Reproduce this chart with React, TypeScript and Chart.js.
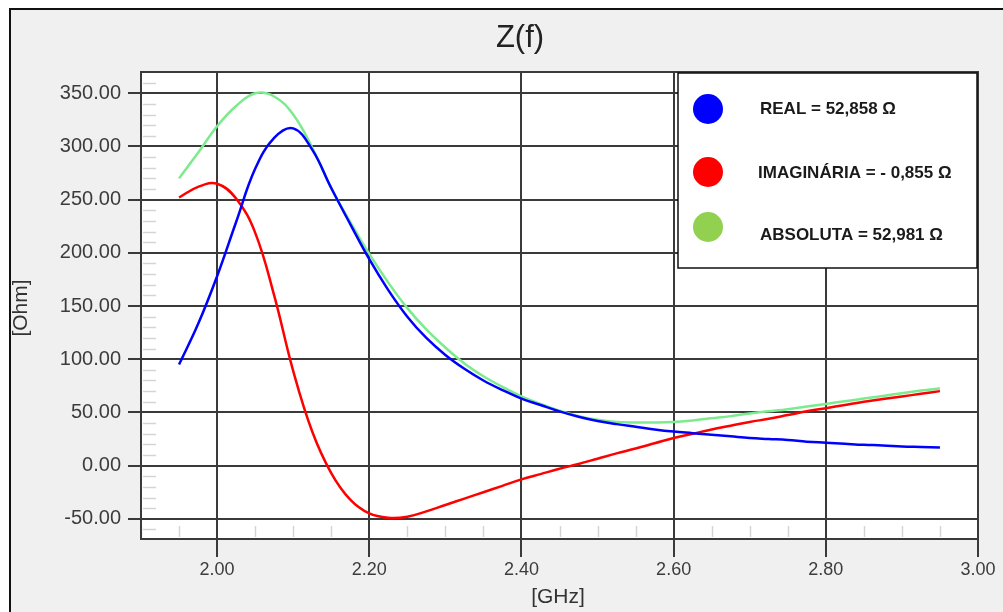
import React, { useEffect, useRef } from 'react';
import { Chart, registerables } from 'chart.js';

Chart.register(...registerables);

const freqs = [
  1.95, 1.975, 2.0, 2.025, 2.05, 2.075, 2.1, 2.125, 2.15, 2.175, 2.2, 2.225, 2.25, 2.275,
  2.3, 2.325, 2.35, 2.375, 2.4, 2.425, 2.45, 2.475, 2.5, 2.525, 2.55, 2.575, 2.6, 2.625,
  2.65, 2.675, 2.7, 2.725, 2.75, 2.775, 2.8, 2.825, 2.85, 2.875, 2.9, 2.925, 2.95,
];
const realOhm = [
  95, 133, 178, 229, 279, 308, 317, 297, 261, 227, 194, 165, 140, 120,
  104, 91, 80, 71, 63, 57, 51, 46, 42, 39, 36.5, 34, 32, 30.5,
  29, 27.5, 26, 25, 24, 22.5, 21.5, 20.5, 19.5, 19, 18, 17.5, 17,
];
const imagOhm = [
  252, 262, 265, 251, 219, 160, 89, 32, -7, -32, -45, -49, -48, -43,
  -37, -31, -25, -19, -13, -8, -3, 1.5, 6.5, 11.5, 16, 21, 26, 30,
  34, 37.5, 41, 44, 47.5, 51, 54, 57, 60, 62.5, 65, 67.5, 70,
];
const absOhm = [
  270, 294, 319, 338, 350, 347, 330, 299, 261, 229, 199, 172, 148, 128,
  111, 96, 84, 74, 65, 58, 51.5, 46.5, 43, 41, 40.5, 40.5, 41, 42.5,
  44.5, 46.5, 49, 51, 53, 55.5, 58, 60.5, 63, 65.5, 68, 70.5, 72.5,
];
const xTicks = [2.0, 2.2, 2.4, 2.6, 2.8, 3.0];
const yTicks = [-50, 0, 50, 100, 150, 200, 250, 300, 350];
const xMinorStep = 0.05;
const yMinorStep = 10;
const seriesColors = ['#0000ff', '#ff0000', '#7beb8e'];
const legendLabels = ['REAL = 52,858 Ω', 'IMAGINÁRIA = - 0,855 Ω', 'ABSOLUTA = 52,981 Ω'];
const legendDotColors = ['#0000ff', '#ff0000', '#92d050'];
const chartTitle = 'Z(f)';
const xTitle = '[GHz]';
const yTitle = '[Ohm]';

const FONT = "'Liberation Sans', Arial, sans-serif";

const decorPlugin = {
  id: 'decor',
  beforeDraw(chart: any) {
    const { ctx, chartArea: a, width, height } = chart;
    ctx.save();
    ctx.fillStyle = '#ffffff';
    ctx.fillRect(0, 0, width, height);
    ctx.fillStyle = '#f0f0f0';
    ctx.fillRect(10, 9, width - 10, height - 9);
    ctx.fillStyle = '#111111';
    ctx.fillRect(9, 8, width - 9, 2);
    ctx.fillRect(9, 8, 2, height - 8);
    ctx.fillStyle = '#ffffff';
    ctx.fillRect(a.left, a.top, a.right - a.left, a.bottom - a.top);
    ctx.restore();
  },
  beforeDatasetsDraw(chart: any) {
    const { ctx, chartArea: a, scales } = chart;
    const xs = scales.x;
    const ys = scales.y;
    ctx.save();
    ctx.strokeStyle = '#d4d4d4';
    ctx.lineWidth = 1.5;
    for (let k = Math.ceil(xs.min / xMinorStep); k * xMinorStep < xs.max - 1e-9; k++) {
      const v = k * xMinorStep;
      if (Math.abs(v / 0.2 - Math.round(v / 0.2)) < 1e-6) continue;
      const px = Math.round(xs.getPixelForValue(v)) + 0.5;
      ctx.beginPath();
      ctx.moveTo(px, a.bottom - 2);
      ctx.lineTo(px, a.bottom - 13);
      ctx.stroke();
    }
    for (let k = Math.ceil(ys.min / yMinorStep); k * yMinorStep < ys.max; k++) {
      const v = k * yMinorStep;
      if (v % 50 === 0) continue;
      const py = Math.round(ys.getPixelForValue(v)) + 0.5;
      ctx.beginPath();
      ctx.moveTo(a.left + 2, py);
      ctx.lineTo(a.left + 15, py);
      ctx.stroke();
    }
    ctx.strokeStyle = '#3a3a3a';
    ctx.lineWidth = 2;
    ctx.strokeRect(a.left, a.top, a.right - a.left, a.bottom - a.top);
    ctx.restore();
  },
  afterDraw(chart: any) {
    const { ctx } = chart;
    ctx.save();
    ctx.fillStyle = '#222222';
    ctx.font = `31px ${FONT}`;
    ctx.textAlign = 'center';
    ctx.textBaseline = 'middle';
    ctx.fillText(chartTitle, 520, 38);
    ctx.fillStyle = '#333333';
    ctx.font = `21px ${FONT}`;
    ctx.fillText(xTitle, 558, 597);
    ctx.save();
    ctx.translate(21, 308);
    ctx.rotate(-Math.PI / 2);
    ctx.font = `21px ${FONT}`;
    ctx.fillText(yTitle, 0, 0);
    ctx.restore();
    const lx = 678, ly = 73, lw = 299, lh = 195;
    ctx.fillStyle = '#ffffff';
    ctx.fillRect(lx, ly, lw, lh);
    ctx.strokeStyle = '#111111';
    ctx.lineWidth = 1.5;
    ctx.strokeRect(lx, ly, lw, lh);
    const dotY = [109, 172, 227];
    const textY = [109, 173, 235];
    const textX = [760, 758, 760];
    for (let i = 0; i < legendLabels.length; i++) {
      ctx.beginPath();
      ctx.arc(708, dotY[i], 15, 0, Math.PI * 2);
      ctx.fillStyle = legendDotColors[i];
      ctx.fill();
      ctx.fillStyle = '#1a1a1a';
      ctx.font = `bold 17px ${FONT}`;
      ctx.textAlign = 'left';
      ctx.textBaseline = 'middle';
      ctx.fillText(legendLabels[i], textX[i], textY[i]);
    }
    ctx.restore();
  },
};

export default function App() {
  const ref = useRef<HTMLCanvasElement | null>(null);
  useEffect(() => {
    document.body.style.margin = '0';
    const canvas = ref.current;
    if (!canvas) return;
    const mk = (vals: number[]) => freqs.map((f, i) => ({ x: f, y: vals[i] }));
    const chart = new Chart(canvas, {
      type: 'line',
      data: {
        datasets: [
          { label: 'Real', data: mk(realOhm), borderColor: seriesColors[0] },
          { label: 'Imag', data: mk(imagOhm), borderColor: seriesColors[1] },
          { label: 'Abs', data: mk(absOhm), borderColor: seriesColors[2] },
        ].map((d) => ({
          ...d,
          borderWidth: 2.5,
          pointRadius: 0,
          fill: false,
          tension: 0.4,
        })),
      },
      options: {
        animation: false,
        responsive: false,
        devicePixelRatio: 1,
        layout: { padding: { top: 72, right: 25, left: 0, bottom: 0 } },
        plugins: { legend: { display: false }, title: { display: false }, tooltip: { enabled: false } },
        scales: {
          x: {
            type: 'linear',
            min: 1.9,
            max: 3.0,
            afterBuildTicks: (s: any) => {
              s.ticks = xTicks.map((v) => ({ value: v }));
            },
            afterFit: (s: any) => {
              s.height = 612 - 539;
            },
            grid: { color: '#3a3a3a', lineWidth: 2, tickLength: 18, drawTicks: true },
            border: { display: false },
            ticks: {
              color: '#3c3c3c',
              font: { family: FONT, size: 18 },
              padding: 2,
              maxRotation: 0,
              autoSkip: false,
              callback: (v: any) => Number(v).toFixed(2),
            },
          },
          y: {
            type: 'linear',
            min: -69,
            max: 370,
            afterBuildTicks: (s: any) => {
              s.ticks = yTicks.map((v) => ({ value: v }));
            },
            afterFit: (s: any) => {
              s.width = 141;
            },
            grid: { color: '#3a3a3a', lineWidth: 2, tickLength: 13, drawTicks: true },
            border: { display: false },
            ticks: {
              color: '#3c3c3c',
              font: { family: FONT, size: 20 },
              padding: 7,
              autoSkip: false,
              callback: (v: any) => Number(v).toFixed(2),
            },
          },
        },
      },
      plugins: [decorPlugin],
    });
    return () => chart.destroy();
  }, []);
  return (
    <div style={{ width: 1003, height: 612 }}>
      <canvas ref={ref} width={1003} height={612} style={{ display: 'block', width: 1003, height: 612 }} />
    </div>
  );
}
